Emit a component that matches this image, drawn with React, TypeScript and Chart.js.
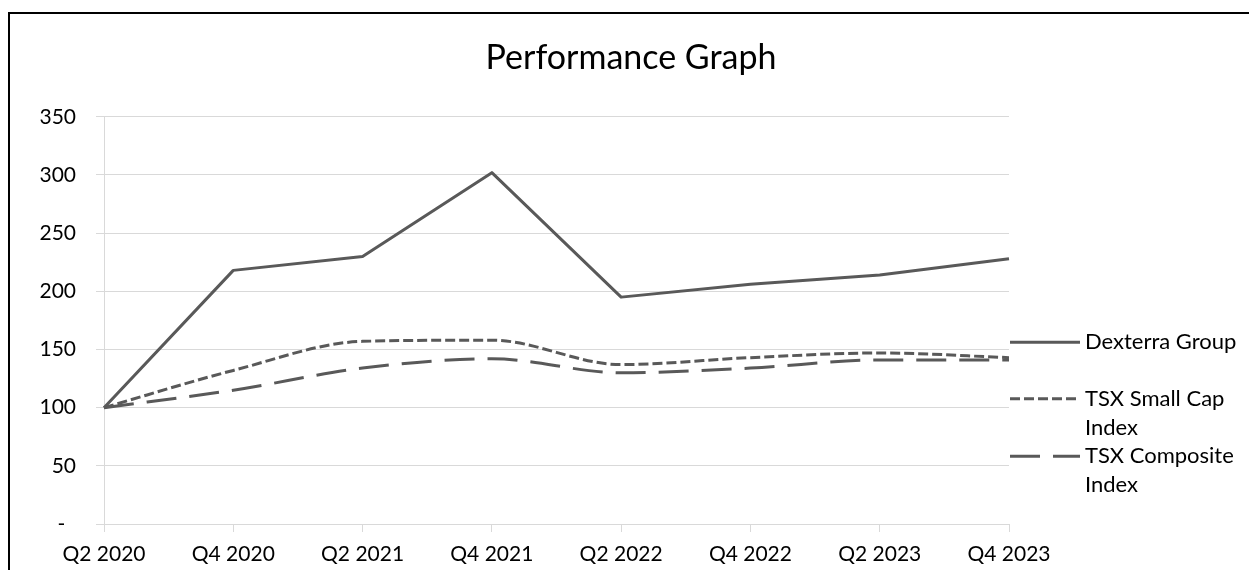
import React, { useEffect, useRef } from 'react';
import { Chart, registerables } from 'chart.js';

Chart.register(...registerables);

const categories = ['Q2 2020', 'Q4 2020', 'Q2 2021', 'Q4 2021', 'Q2 2022', 'Q4 2022', 'Q2 2023', 'Q4 2023'];
const dexterra = [100, 218, 230, 302, 195, 206, 214, 228];
const smallCap = [100, 132, 157, 158, 137, 143, 147, 143];
const composite = [100, 115, 134, 142, 130, 134, 141, 141];
const seriesNames = ['Dexterra Group', 'TSX Small Cap Index', 'TSX Composite Index'];
const legendLines = [['Dexterra Group'], ['TSX Small Cap', 'Index'], ['TSX Composite', 'Index']];
const yMin = 0;
const yMax = 350;
const yStep = 50;
const chartTitle = 'Performance Graph';

const FONT = 'Lato';
const LINE_COLOR = '#595959';
const GRID_COLOR = '#d9d9d9';

const sideLegend = {
  id: 'sideLegend',
  afterDraw(chart: any) {
    const { ctx, chartArea } = chart;
    const x0 = chartArea.right + 1;
    const lineLen = 70;
    const lineH = 29;
    const offsets = [225.5, 282, 339.5];
    ctx.save();
    ctx.font = `22px ${FONT}`;
    ctx.textBaseline = 'middle';
    ctx.textAlign = 'left';
    chart.data.datasets.forEach((ds: any, i: number) => {
      const y = chartArea.top + offsets[i];
      ctx.beginPath();
      ctx.setLineDash(ds.borderDash || []);
      ctx.lineWidth = ds.borderWidth;
      ctx.strokeStyle = ds.borderColor;
      ctx.lineCap = 'butt';
      ctx.moveTo(x0, y);
      ctx.lineTo(x0 + lineLen, y);
      ctx.stroke();
      ctx.setLineDash([]);
      ctx.fillStyle = '#000';
      legendLines[i].forEach((t, j) => {
        ctx.fillText(t, x0 + lineLen + 5, y + j * lineH);
      });
    });
    ctx.restore();
  },
};

export default function App() {
  const ref = useRef<HTMLCanvasElement>(null);
  useEffect(() => {
    document.documentElement.style.overflow = 'hidden';
    document.body.style.overflow = 'hidden';
    const tickFont = { family: FONT, size: 21 };
    const chart = new Chart(ref.current as HTMLCanvasElement, {
      type: 'line',
      data: {
        labels: categories,
        datasets: [
          {
            label: seriesNames[0],
            data: dexterra,
            borderColor: LINE_COLOR,
            borderWidth: 3,
            pointRadius: 0,
            tension: 0,
            borderJoinStyle: 'round',
            yAxisID: 'y',
          },
          {
            label: seriesNames[1],
            data: smallCap,
            borderColor: LINE_COLOR,
            borderWidth: 3,
            borderDash: [10, 4],
            pointRadius: 0,
            cubicInterpolationMode: 'monotone',
            yAxisID: 'y',
          },
          {
            label: seriesNames[2],
            data: composite,
            borderColor: LINE_COLOR,
            borderWidth: 3,
            borderDash: [30, 13],
            pointRadius: 0,
            cubicInterpolationMode: 'monotone',
            yAxisID: 'y',
          },
        ],
      },
      options: {
        responsive: false,
        animation: false,
        layout: { padding: { left: 3, right: 0, top: 0, bottom: 0 } },
        plugins: {
          legend: { display: false },
          tooltip: { enabled: false },
          title: {
            display: true,
            text: chartTitle,
            color: '#000',
            font: { family: FONT, size: 34, weight: 'normal' },
            padding: { top: 24, bottom: 38 },
          },
        },
        scales: {
          x: {
            type: 'category',
            offset: false,
            grid: { drawOnChartArea: false, drawTicks: true, tickLength: 8, color: GRID_COLOR },
            border: { color: GRID_COLOR, width: 1 },
            ticks: { font: tickFont, color: '#000', padding: 10, maxRotation: 0, autoSkip: false },
            afterFit(s: any) { s.height = 46; },
          },
          y: {
            min: yMin,
            max: yMax,
            grid: { color: GRID_COLOR, tickLength: 8 },
            border: { color: GRID_COLOR, width: 1 },
            ticks: {
              stepSize: yStep,
              font: tickFont,
              color: '#000',
              padding: 20,
              callback: (v: any) => (Number(v) === 0 ? '-  ' : String(v)),
            },
            afterFit(s: any) { s.width = 91; },
          },
          legendSpace: {
            type: 'linear',
            position: 'right',
            display: true,
            grid: { display: false, drawTicks: false },
            border: { display: false },
            ticks: { display: false },
            afterFit(s: any) { s.width = 240; },
          },
        },
      },
      plugins: [sideLegend],
    } as any);
    return () => chart.destroy();
  }, []);
  return (
    <div
      style={{
        position: 'absolute',
        left: 8,
        top: 12,
        width: 1241,
        height: 558,
        boxSizing: 'border-box',
        borderLeft: '2px solid #000',
        borderTop: '2px solid #000',
        background: '#fff',
      }}
    >
      <canvas ref={ref} width={1239} height={556} style={{ display: 'block' }} />
    </div>
  );
}
